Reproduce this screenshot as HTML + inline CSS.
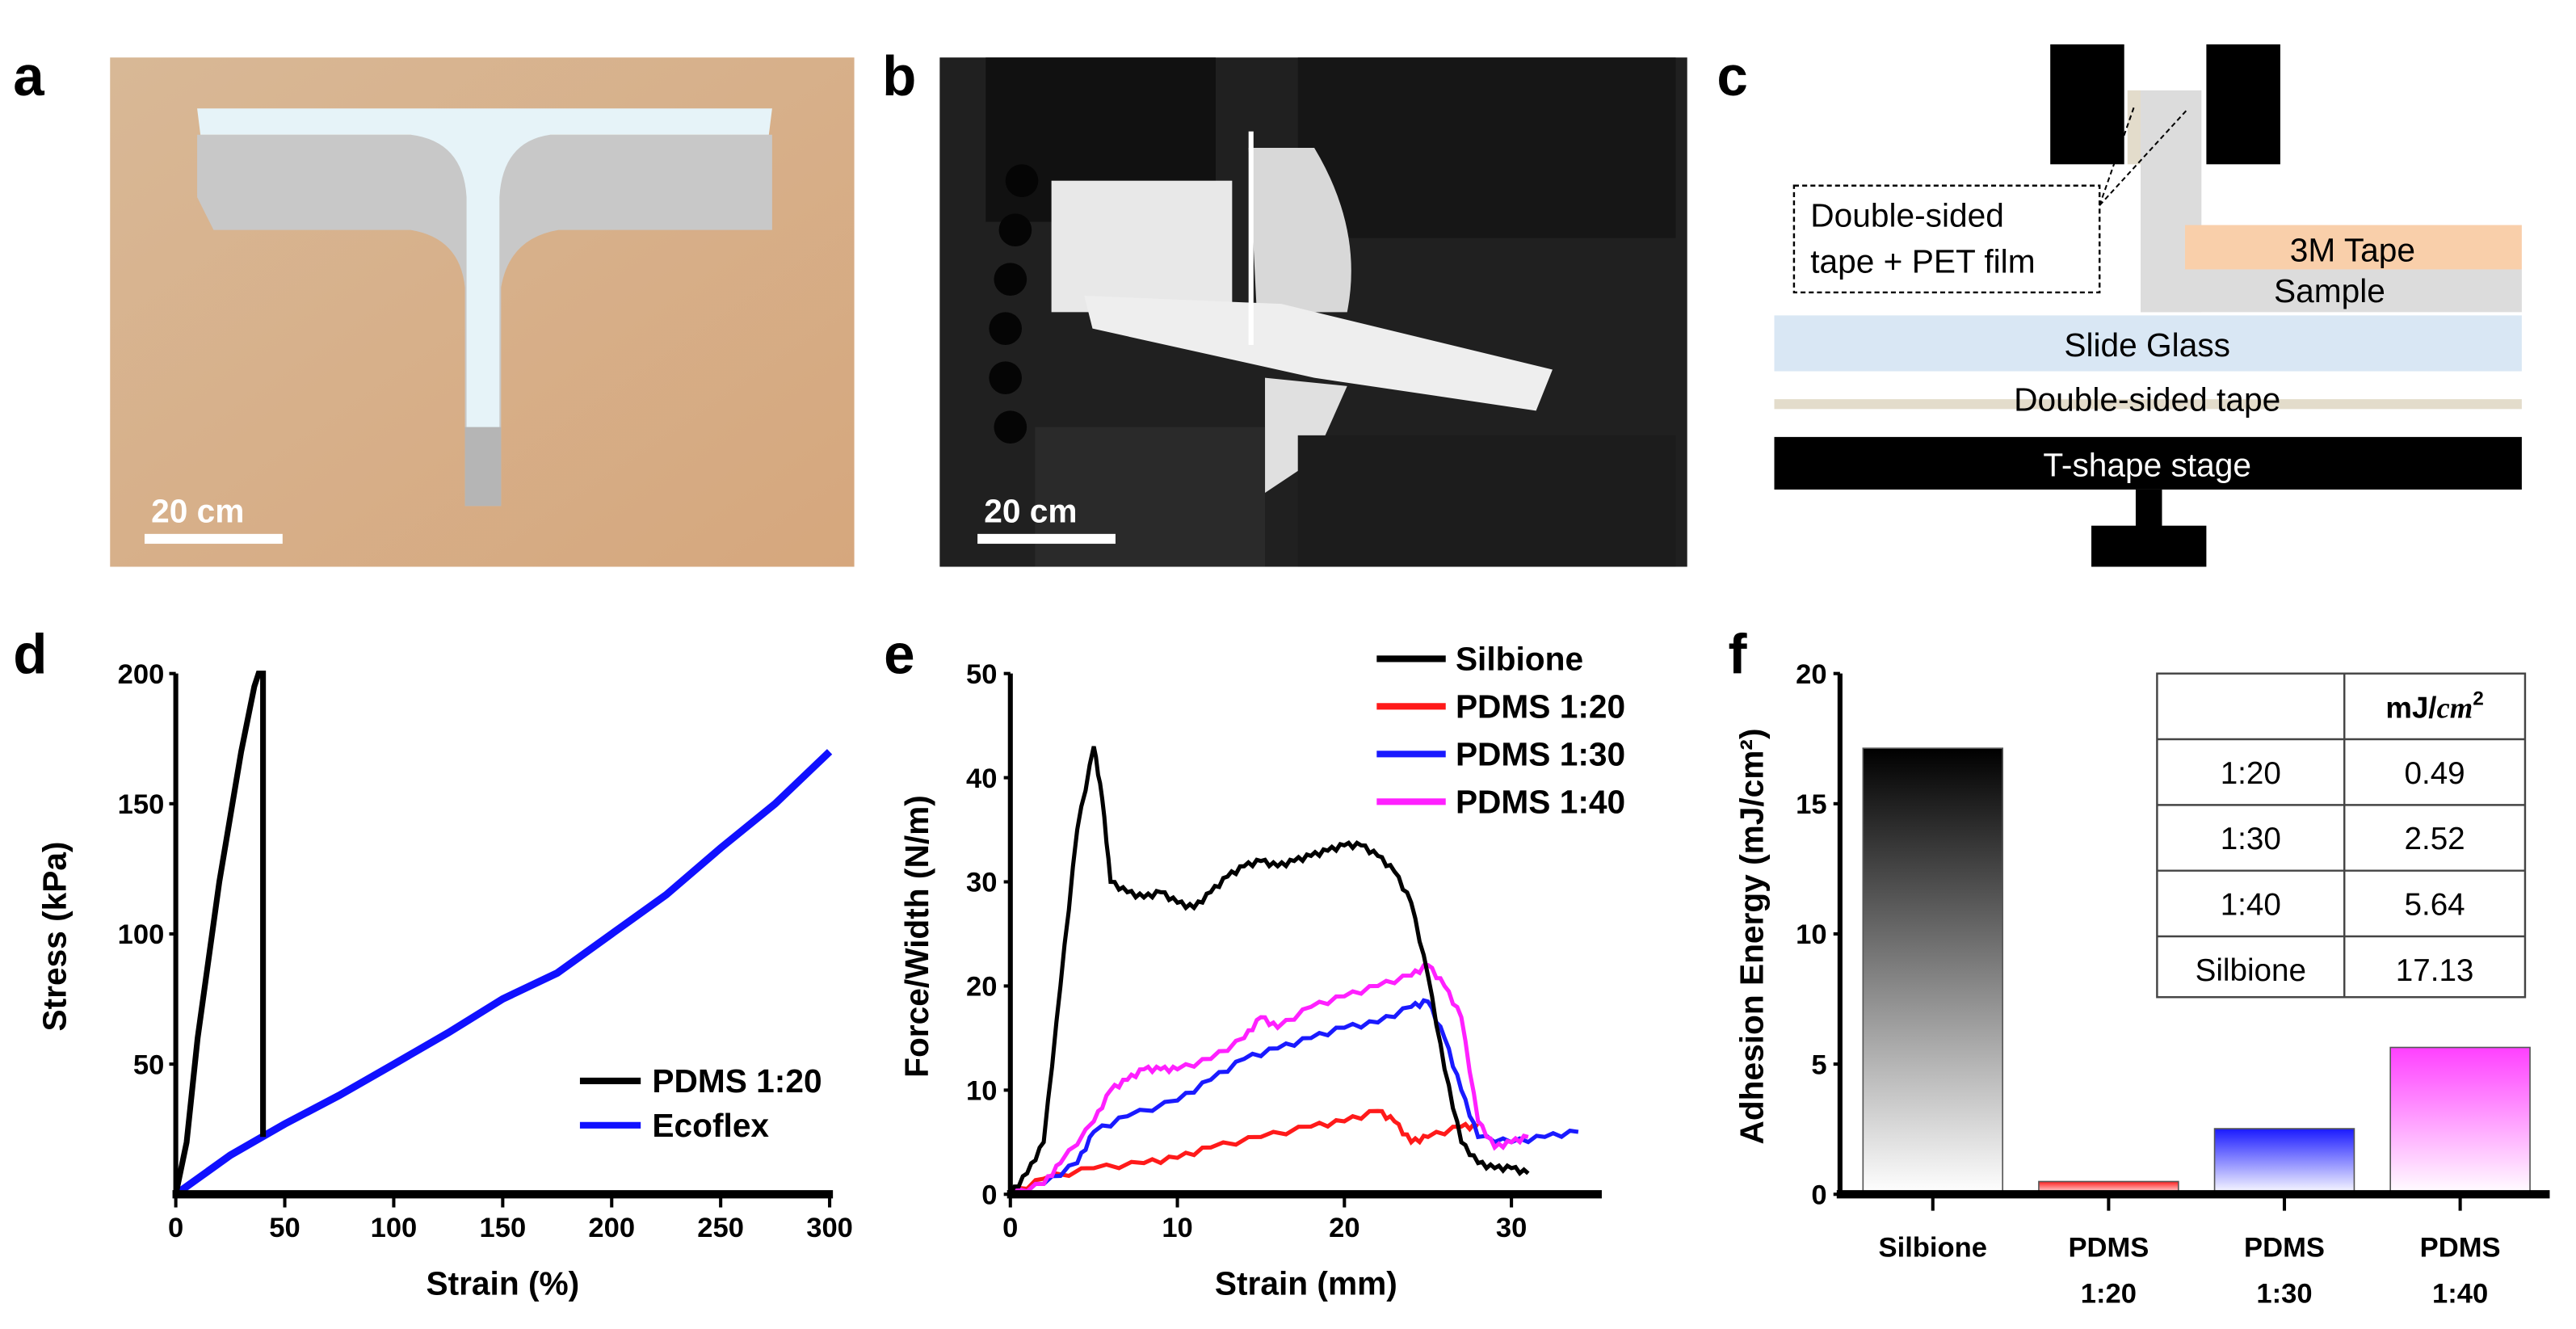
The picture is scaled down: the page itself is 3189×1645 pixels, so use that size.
<!DOCTYPE html>
<html><head><meta charset="utf-8"><style>
html,body{margin:0;padding:0;background:#fff}
svg{display:block}
text{font-family:"Liberation Sans",Arial,sans-serif}
</style></head><body>
<svg id="fig" width="3189" height="1645" viewBox="0 0 1568 809" preserveAspectRatio="none" xmlns="http://www.w3.org/2000/svg">
<defs>
<linearGradient id="gBlack" x1="0" y1="0" x2="0" y2="1"><stop offset="0" stop-color="#000"/><stop offset="1" stop-color="#fff"/></linearGradient>
<linearGradient id="gRed" x1="0" y1="0" x2="0" y2="1"><stop offset="0" stop-color="#ff2020"/><stop offset="1" stop-color="#fff"/></linearGradient>
<linearGradient id="gBlue" x1="0" y1="0" x2="0" y2="1"><stop offset="0" stop-color="#1a1aff"/><stop offset="1" stop-color="#fff"/></linearGradient>
<linearGradient id="gMag" x1="0" y1="0" x2="0" y2="1"><stop offset="0" stop-color="#ff40ff"/><stop offset="1" stop-color="#fff"/></linearGradient>
<linearGradient id="woodG" x1="0" y1="0" x2="1" y2="1"><stop offset="0" stop-color="#d8b896"/><stop offset="1" stop-color="#d6a77d"/></linearGradient>
</defs>

<g font-weight="bold" font-size="34">
<text x="8" y="58">a</text>
<text x="537" y="58">b</text>
<text x="1045" y="58">c</text>
<text x="8" y="410">d</text>
<text x="538" y="410">e</text>
<text x="1052" y="410">f</text>
</g>

<g>
<rect x="67" y="35" width="453" height="310" fill="url(#woodG)"/>
<path d="M120,82 L470,82 L470,140 L340,140 Q310,145 305,175 L305,308 L283,308 L283,175 Q280,145 250,140 L130,140 L120,120 Z" fill="#c8c8c8"/>
<path d="M120,66 L470,66 L468,82 L335,82 Q306,86 304,120 L304,260 L284,260 L284,120 Q282,86 250,82 L122,82 Z" fill="#e6f3f8"/>
<rect x="283" y="260" width="22" height="48" fill="#b5b5b5"/>
<rect x="88" y="325" width="84" height="6" fill="#fff"/>
<text x="92" y="318" font-size="20" font-weight="bold" fill="#fff">20 cm</text>
</g>

<g>
<rect x="572" y="35" width="455" height="310" fill="#202020"/>
<rect x="600" y="35" width="140" height="100" fill="#111"/>
<rect x="790" y="35" width="230" height="110" fill="#161616"/>
<rect x="640" y="110" width="110" height="80" fill="#e8e8e8"/>
<path d="M760,90 L800,90 Q830,140 820,190 L765,190 Z" fill="#d8d8d8"/>
<path d="M660,180 L780,185 L945,225 L935,250 L800,230 L665,200 Z" fill="#eeeeee"/>
<path d="M770,230 L820,235 L800,280 L770,300 Z" fill="#e0e0e0"/>
<rect x="760" y="80" width="3" height="130" fill="#fff"/>
<g fill="#050505"><circle cx="622" cy="110" r="10"/><circle cx="618" cy="140" r="10"/><circle cx="615" cy="170" r="10"/><circle cx="612" cy="200" r="10"/><circle cx="612" cy="230" r="10"/><circle cx="615" cy="260" r="10"/></g>
<rect x="630" y="260" width="140" height="85" fill="#2a2a2a"/>
<rect x="790" y="265" width="230" height="80" fill="#1c1c1c"/>
<rect x="595" y="325" width="84" height="6" fill="#fff"/>
<text x="599" y="318" font-size="20" font-weight="bold" fill="#fff">20 cm</text>
</g>

<g>
<rect x="1248" y="27" width="45" height="73" fill="#000"/>
<rect x="1343" y="27" width="45" height="73" fill="#000"/>
<rect x="1295" y="55" width="8" height="45" fill="#e3dccb"/>
<rect x="1303" y="55" width="37" height="135" fill="#dcdcdc"/>
<rect x="1330" y="137" width="205" height="27" fill="#f9cfaa"/>
<text x="1432" y="159" font-size="20" text-anchor="middle">3M Tape</text>
<rect x="1303" y="164" width="232" height="26" fill="#dcdcdc"/>
<text x="1418" y="184" font-size="20" text-anchor="middle">Sample</text>
<rect x="1080" y="192" width="455" height="34" fill="#d9e7f4"/>
<text x="1307" y="217" font-size="20" text-anchor="middle">Slide Glass</text>
<rect x="1080" y="243" width="455" height="6" fill="#e3dccb"/>
<text x="1307" y="250" font-size="20" text-anchor="middle">Double-sided tape</text>
<rect x="1080" y="266" width="455" height="32" fill="#000"/>
<text x="1307" y="290" font-size="20" text-anchor="middle" fill="#fff">T-shape stage</text>
<rect x="1300" y="298" width="16" height="24" fill="#000"/>
<rect x="1273" y="320" width="70" height="25" fill="#000"/>
<rect x="1092" y="113" width="186" height="65" fill="none" stroke="#000" stroke-dasharray="3,2" stroke-width="1.2"/>
<text x="1102" y="138" font-size="20">Double-sided</text>
<text x="1102" y="166" font-size="20">tape + PET film</text>
<line x1="1278" y1="125" x2="1299" y2="65" stroke="#000" stroke-dasharray="3,2"/>
<line x1="1278" y1="125" x2="1332" y2="66" stroke="#000" stroke-dasharray="3,2"/>
</g>

<g id="chartD"></g>
<g id="chartE"></g>
<g id="chartF"></g>
</svg>
<script>
const dXTicks=[0,50,100,150,200,250,300];
const dYTicks=[50,100,150,200];
const pdmsStrain=[0,5,10,20,30,36,38,40,40];
const pdmsStress=[0,20,60,120,170,195,200,200,22];
const ecoStrain=[0,25,50,75,100,125,150,175,200,225,250,275,300];
const ecoStress=[0,15,27,38,50,62,75,85,100,115,133,150,170];
const eXTicks=[0,10,20,30];
const eYTicks=[0,10,20,30,40,50];
const silX=[0,1,2,3,4,5,5.5,6,7,8,9,10,11,12,13,14,15,16,17,18,19,20,21,22,23,24,25,26,27,28,29,30,31];
const silY=[0,2,5,20,35,43,38,30,29,28.5,29,28,27.5,29,30.5,31.5,32,31.5,32,32.5,33,33.5,33.5,32.5,31,28,21,12,5,3,2.5,2.5,2];
const p20X=[0,2,5,8,10,12,15,18,20,22,23,24,25,27,28];
const p20Y=[0,1.5,2.5,3,3.5,4.5,5.5,6.5,7,8,7,5,5.5,6.5,6.5];
const p30X=[0,2,4,5,7,10,12,14,16,18,20,22,24,25,26,27,28,30,32,34];
const p30Y=[0,1,3,6,7.5,9,11,13,14,15,16,16.5,18,18.5,15,10,5.5,5,5.5,6];
const p40X=[0,2,3,5,6,7,8,9,10,12,14,15,16,18,20,22,24,25,26,27,28,29,30,31];
const p40Y=[0,1,3,7,10,11,12,12,12,13,15,17,16,18,19,20,21,22,20,17,7,4.5,5,5.5];
const fCats=["Silbione","PDMS 1:20","PDMS 1:30","PDMS 1:40"];
const fVals=[17.13,0.49,2.52,5.64];
const fYTicks=[0,5,10,15,20];
const tblRows=["1:20","1:30","1:40","Silbione"];
const tblVals=["0.49","2.52","5.64","17.13"];

const NS="http://www.w3.org/2000/svg";
function mk(p,tag,a,txt){const e=document.createElementNS(NS,tag);for(const k in a)e.setAttribute(k,a[k]);if(txt!==undefined)e.textContent=txt;p.appendChild(e);return e;}
function wig(xs,ys,sx,sy,amp){let d="";for(let i=0;i<xs.length;i++){d+=(i?"L":"M")+sx(xs[i]).toFixed(1)+","+sy(ys[i]).toFixed(1);if(amp&&i<xs.length-1){const n=4;for(let j=1;j<n;j++){const t=j/n;const x=xs[i]+(xs[i+1]-xs[i])*t,y=ys[i]+(ys[i+1]-ys[i])*t;d+="L"+sx(x).toFixed(1)+","+(sy(y)+(j%2?-amp:amp)).toFixed(1);}}}return d;}

const TOP=410, BOT=727;
(function(){
const g=document.getElementById('chartD');
const sx=v=>107+v*(505-107)/300, sy=v=>BOT-v*(BOT-TOP)/200;
const yt=mk(g,'text',{x:40,y:570,'font-size':20,'font-weight':'bold','text-anchor':'middle',transform:'rotate(-90 40 570)'},'Stress (kPa)');

const xt=mk(g,'text',{x:306,y:788,'font-size':20,'font-weight':'bold','text-anchor':'middle'},'Strain (%)');

dXTicks.forEach(v=>{const t=mk(g,'text',{x:sx(v),y:753,'font-size':17,'font-weight':'bold','text-anchor':'middle'},v);mk(g,'line',{x1:sx(v),x2:sx(v),y1:727,y2:735,stroke:'#000','stroke-width':2});});
dYTicks.forEach(v=>{const t=mk(g,'text',{x:100,y:sy(v)+6,'font-size':17,'font-weight':'bold','text-anchor':'end'},v);mk(g,'line',{x1:103,x2:107,y1:sy(v),y2:sy(v),stroke:'#000','stroke-width':2});});
const eco=mk(g,'path',{d:wig(ecoStrain,ecoStress,sx,sy,0),fill:'none',stroke:'#1010ff','stroke-width':4.5});

const pd=mk(g,'path',{d:wig(pdmsStrain,pdmsStress,sx,sy,0),fill:'none',stroke:'#000','stroke-width':3.5});

mk(g,'line',{x1:107,y1:TOP,x2:107,y2:BOT,stroke:'#000','stroke-width':3});
mk(g,'line',{x1:105,y1:BOT,x2:507,y2:BOT,stroke:'#000','stroke-width':5});
[['PDMS 1:20','#000',658],['Ecoflex','#1010ff',685]].forEach(l=>{const lg=mk(g,'g',{});mk(lg,'line',{x1:353,x2:390,y1:l[2],y2:l[2],stroke:l[1],'stroke-width':4});mk(lg,'text',{x:397,y:l[2]+7,'font-size':20,'font-weight':'bold'},l[0]);});
})();

(function(){
const g=document.getElementById('chartE');
const sx=v=>615+v*(920-615)/30, sy=v=>BOT-v*(BOT-TOP)/50;
const yt=mk(g,'text',{x:565,y:570,'font-size':20,'font-weight':'bold','text-anchor':'middle',transform:'rotate(-90 565 570)'},'Force/Width (N/m)');

const xt=mk(g,'text',{x:795,y:788,'font-size':20,'font-weight':'bold','text-anchor':'middle'},'Strain (mm)');

eXTicks.forEach(v=>{const t=mk(g,'text',{x:sx(v),y:753,'font-size':17,'font-weight':'bold','text-anchor':'middle'},v);mk(g,'line',{x1:sx(v),x2:sx(v),y1:727,y2:735,stroke:'#000','stroke-width':2});});
eYTicks.forEach(v=>{const t=mk(g,'text',{x:607,y:sy(v)+6,'font-size':17,'font-weight':'bold','text-anchor':'end'},v);mk(g,'line',{x1:611,x2:615,y1:sy(v),y2:sy(v),stroke:'#000','stroke-width':2});});
[[p20X,p20Y,'#ff1a1a','pdms-1-20-curve'],[p30X,p30Y,'#1a1aff','pdms-1-30-curve'],[p40X,p40Y,'#ff20ff','pdms-1-40-curve'],[silX,silY,'#000','silbione-curve']].forEach(s=>{const p=mk(g,'path',{d:wig(s[0],s[1],sx,sy,1.5),fill:'none',stroke:s[2],'stroke-width':2.5});});
mk(g,'line',{x1:615,y1:TOP,x2:615,y2:BOT,stroke:'#000','stroke-width':3});
mk(g,'line',{x1:613,y1:BOT,x2:975,y2:BOT,stroke:'#000','stroke-width':5});
[['Silbione','#000',403],['PDMS 1:20','#ff1a1a',432],['PDMS 1:30','#1a1aff',461],['PDMS 1:40','#ff20ff',490]].forEach(l=>{const lg=mk(g,'g',{});mk(lg,'line',{x1:838,x2:880,y1:l[2]-2,y2:l[2]-2,stroke:l[1],'stroke-width':4});mk(lg,'text',{x:886,y:l[2]+5,'font-size':20,'font-weight':'bold'},l[0]);});
})();

(function(){
const g=document.getElementById('chartF');
const sy=v=>BOT-v*(BOT-TOP)/20;
const bw=85, x0=1134, step=107;
const fills=['url(#gBlack)','url(#gRed)','url(#gBlue)','url(#gMag)'];
const yt=mk(g,'text',{x:1073,y:570,'font-size':20,'font-weight':'bold','text-anchor':'middle',transform:'rotate(-90 1073 570)'},'Adhesion Energy (mJ/cm²)');

fYTicks.forEach(v=>{const t=mk(g,'text',{x:1112,y:sy(v)+6,'font-size':17,'font-weight':'bold','text-anchor':'end'},v);mk(g,'line',{x1:1116,x2:1120,y1:sy(v),y2:sy(v),stroke:'#000','stroke-width':2});});
fVals.forEach((v,i)=>{const x=x0+i*step;const b=mk(g,'rect',{x:x,y:sy(v),width:bw,height:BOT-sy(v),fill:fills[i],stroke:'#555','stroke-width':0.8});
mk(g,'line',{x1:x+bw/2,x2:x+bw/2,y1:727,y2:737,stroke:'#000','stroke-width':2});
const parts=fCats[i].split(' ');parts.forEach((p,j)=>{const t=mk(g,'text',{x:x+bw/2,y:765+j*28,'font-size':17,'font-weight':'bold','text-anchor':'middle'},p);});});
mk(g,'line',{x1:1120,y1:TOP,x2:1120,y2:BOT,stroke:'#000','stroke-width':3});
mk(g,'line',{x1:1118,y1:BOT,x2:1552,y2:BOT,stroke:'#000','stroke-width':5});
const tb=mk(g,'g',{});
const tx=1313,tx1=1427,tx2=1537,ty=410,rh=[40,40,40,40,37];
mk(tb,'rect',{x:tx,y:ty,width:tx2-tx,height:197,fill:'#fff',stroke:'#444','stroke-width':1.2});
let y=ty;rh.forEach((h,i)=>{if(i>0)mk(tb,'line',{x1:tx,x2:tx2,y1:y,y2:y,stroke:'#444','stroke-width':1.2});y+=h;});
mk(tb,'line',{x1:tx1,x2:tx1,y1:ty,y2:ty+197,stroke:'#444','stroke-width':1.2});
const h=mk(tb,'text',{x:1482,y:437,'font-size':18,'font-weight':'bold','text-anchor':'middle'},'mJ/');
mk(h,'tspan',{'font-style':'italic','font-family':'Liberation Serif'},'cm');mk(h,'tspan',{'font-size':12,dy:-8},'2');
y=ty+40;tblRows.forEach((r,i)=>{const c=mk(tb,'text',{x:(tx+tx1)/2,y:y+27,'font-size':19,'text-anchor':'middle'},r);const d=mk(tb,'text',{x:(tx1+tx2)/2,y:y+27,'font-size':19,'text-anchor':'middle'},tblVals[i]);y+=rh[i+1];});
})();
</script>
</body></html>
